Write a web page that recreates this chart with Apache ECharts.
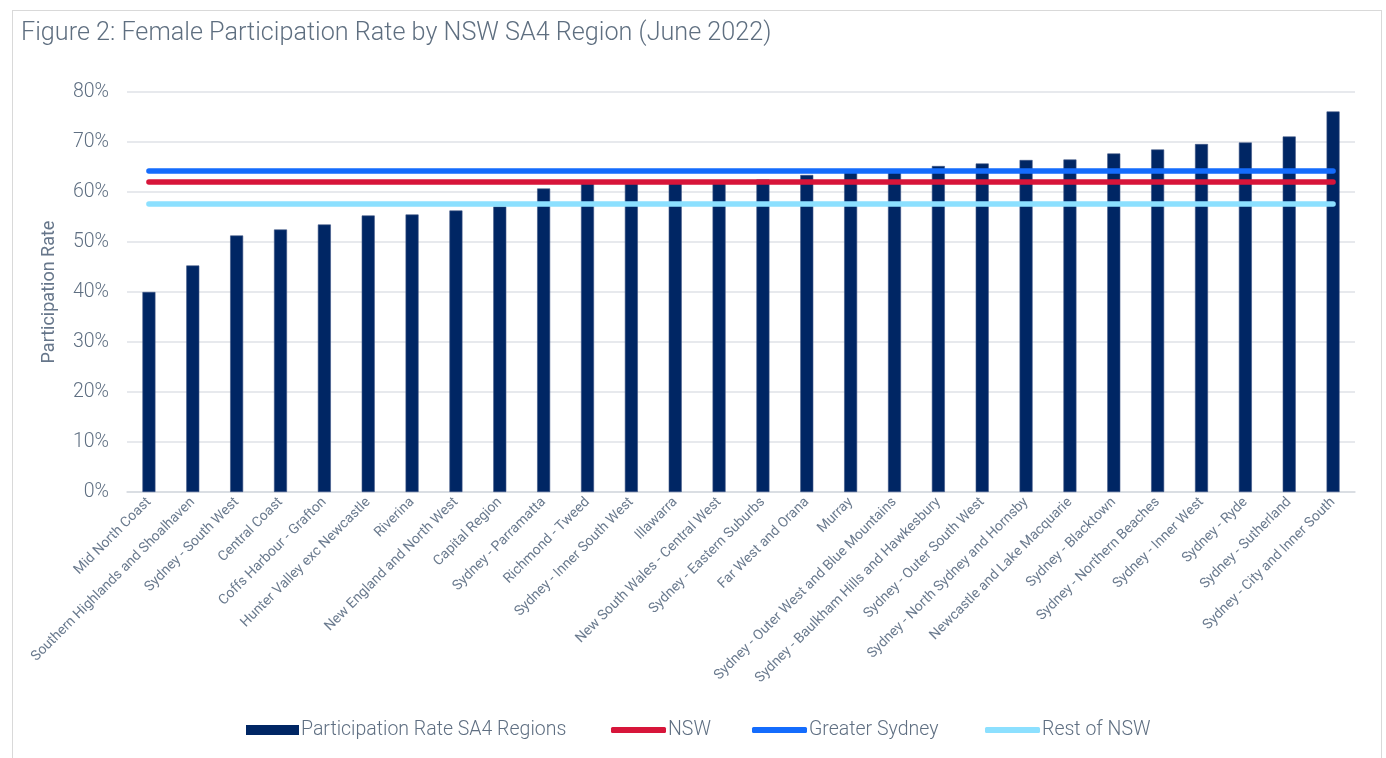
<!DOCTYPE html>
<html>
<head>
<meta charset="utf-8">
<script src="https://cdn.jsdelivr.net/npm/echarts@6/dist/echarts.min.js"></script>
<style>
html,body{margin:0;padding:0;background:#fff;}
#frame{position:absolute;left:12px;top:10px;width:1370px;height:760px;border:1px solid #d9d9d9;box-sizing:border-box;}
#chart{position:absolute;left:0;top:0;width:1386px;height:758px;}
</style>
</head>
<body>
<div id="frame"></div>
<div id="chart"></div>
<script>
const categories = [
  "Mid North Coast","Southern Highlands and Shoalhaven","Sydney - South West","Central Coast",
  "Coffs Harbour - Grafton","Hunter Valley exc Newcastle","Riverina","New England and North West",
  "Capital Region","Sydney - Parramatta","Richmond - Tweed","Sydney - Inner South West",
  "Illawarra","New South Wales - Central West","Sydney - Eastern Suburbs","Far West and Orana",
  "Murray","Sydney - Outer West and Blue Mountains","Sydney - Baulkham Hills and Hawkesbury",
  "Sydney - Outer South West","Sydney - North Sydney and Hornsby","Newcastle and Lake Macquarie",
  "Sydney - Blacktown","Sydney - Northern Beaches","Sydney - Inner West","Sydney - Ryde",
  "Sydney - Sutherland","Sydney - City and Inner South"
];
const regionRates = [
  40.0, 45.3, 51.3, 52.5, 53.5, 55.3, 55.5, 56.3,
  57.1, 60.7, 61.7, 61.7, 61.8, 61.8, 62.5, 63.4,
  64.0, 64.1, 65.2, 65.7, 66.4, 66.5, 67.7, 68.5,
  69.6, 69.9, 71.1, 76.1
];
const nswRate = 62.0;
const greaterSydneyRate = 64.2;
const restOfNswRate = 57.6;
const yTicks = [0, 10, 20, 30, 40, 50, 60, 70, 80];

const flat = v => categories.map(() => v);
const textColor = '#66768a';
const font = 'Roboto';

const legendText = {fontFamily: font, fontWeight: 300, fontSize: 19.5, color: '#5f6f82', padding: [0,0,0,-3]};
function lineLegend(name, left) {
  return {
    data: [{name: name, icon: 'roundRect'}],
    left: left, top: 720, itemWidth: 55, itemHeight: 6, padding: 0,
    textStyle: legendText
  };
}

const chart = echarts.init(document.getElementById('chart'));
chart.setOption({
  animation: false,
  title: {
    text: 'Figure 2: Female Participation Rate by NSW SA4 Region (June 2022)',
    left: 16, top: 16,
    textStyle: {fontFamily: font, fontWeight: 300, fontSize: 25.2, color: '#5f6f80'}
  },
  legend: [
    {
      data: [{name: 'Participation Rate SA4 Regions', icon: 'rect',
              itemStyle: {borderWidth: 0}}],
      left: 246, top: 720, itemWidth: 53, itemHeight: 10, padding: 0,
      textStyle: legendText
    },
    lineLegend('NSW', 611),
    lineLegend('Greater Sydney', 752),
    lineLegend('Rest of NSW', 985)
  ],
  grid: {left: 127, right: 31, top: 92, bottom: 266, containLabel: false},
  xAxis: {
    type: 'category',
    data: categories,
    axisLine: {lineStyle: {color: '#d6dae0', width: 1.5}},
    axisTick: {show: false},
    axisLabel: {
      interval: 0, rotate: 45, margin: 8,
      fontFamily: font, fontSize: 14, color: '#6a7a8e'
    }
  },
  yAxis: {
    type: 'value',
    min: 0, max: 80, interval: 10,
    name: 'Participation Rate',
    nameLocation: 'middle',
    nameGap: 69,
    nameTextStyle: {fontFamily: font, fontSize: 18, color: textColor},
    axisLine: {show: false},
    axisTick: {show: false},
    axisLabel: {
      margin: 18, fontFamily: font, fontWeight: 300, fontSize: 19.5, color: '#5f6f82',
      formatter: v => yTicks.includes(v) ? v + '%' : ''
    },
    splitLine: {lineStyle: {color: '#dfe2e7', width: 1.5}}
  },
  series: [
    {
      name: 'Participation Rate SA4 Regions',
      type: 'bar',
      data: regionRates,
      barWidth: 13,
      itemStyle: {color: '#002664', borderColor: '#3d5485', borderWidth: 0.6},
      z: 1
    },
    {
      name: 'NSW', type: 'line', data: flat(nswRate),
      showSymbol: false, symbol: 'none',
      lineStyle: {color: '#d7153a', width: 5.5, cap: 'round'},
      itemStyle: {color: '#d7153a'}, z: 3
    },
    {
      name: 'Greater Sydney', type: 'line', data: flat(greaterSydneyRate),
      showSymbol: false, symbol: 'none',
      lineStyle: {color: '#146cfd', width: 5.5, cap: 'round'},
      itemStyle: {color: '#146cfd'}, z: 3
    },
    {
      name: 'Rest of NSW', type: 'line', data: flat(restOfNswRate),
      showSymbol: false, symbol: 'none',
      lineStyle: {color: '#8ce0ff', width: 5.5, cap: 'round'},
      itemStyle: {color: '#8ce0ff'}, z: 3
    }
  ]
});
</script>
</body>
</html>
